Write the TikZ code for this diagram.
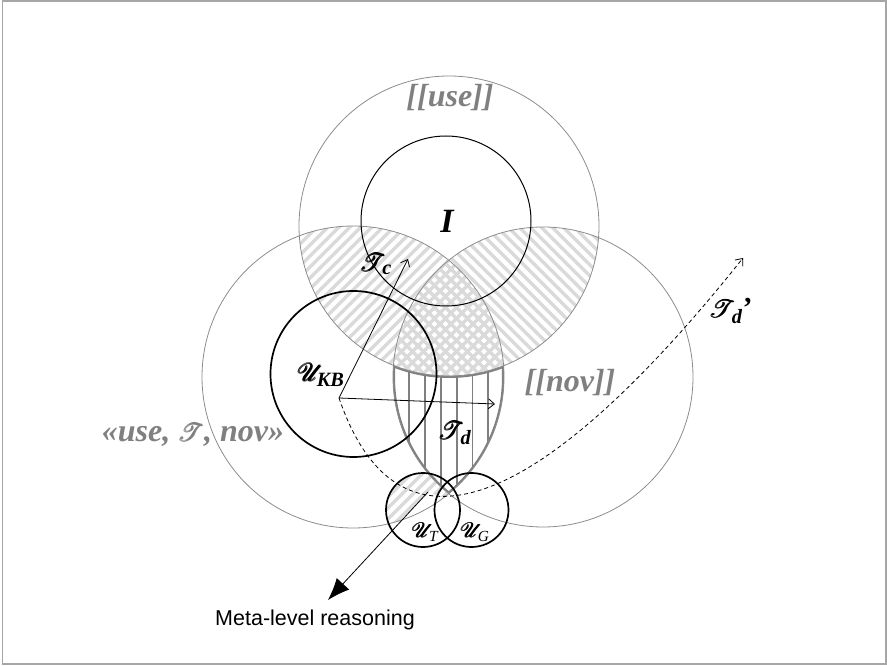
\documentclass[tikz,border=0pt]{standalone}
\usepackage{amsmath,mathrsfs}
\usepackage{fontspec}
\setmainfont{Liberation Serif}
\setsansfont{Liberation Sans}
\usetikzlibrary{positioning,arrows.meta,calc}
\definecolor{ringgray}{RGB}{140,140,140}
\definecolor{hatchgray}{RGB}{218,218,218}
\definecolor{lensgray}{RGB}{128,128,128}
\definecolor{labelgray}{RGB}{128,128,128}
\newcommand{\scr}[1]{\pmb{\mathscr{#1}}}
\newcommand{\bsub}[1]{\textbf{\textit{#1}}}

\begin{document}
\begin{tikzpicture}[x=1pt,y=1pt,>={Straight Barb[length=6pt,width=10pt]},
    ring/.style={draw=ringgray,line width=0.8pt},
    setring/.style={draw=black,line width=1.7pt},
    hatch/.style={draw=hatchgray,line width=3.5pt},
    vline/.style={draw=lensgray,line width=1.8pt},
    setlabel/.style={text=labelgray,font=\fontsize{32}{36}\selectfont\bfseries\itshape,inner sep=0pt},
    mlabel/.style={font=\fontsize{29}{33}\selectfont,inner sep=0pt},
    slabel/.style={font=\fontsize{22}{26}\selectfont,inner sep=0pt}]
  \useasboundingbox (0,0) rectangle (887,665);
  \draw[gray!70,line width=1.5pt] (2.5,1) rectangle (886,664);
  % centres
  \coordinate (cuse) at (449,439);
  \coordinate (ctn)  at (353,288);
  \coordinate (cnov) at (543,288);
  \coordinate (ci)   at (446,444);
  \coordinate (ckb)  at (353.5,291);
  \coordinate (cut)  at (423,155);
  \coordinate (cug)  at (471.5,155);
  \coordinate (o)    at (339,267);
  \coordinate (tcend) at (408,406);
  \coordinate (tdend) at (495,261);
  \coordinate (tpend) at (743,407);
  \coordinate (mstart) at (428,173);
  \coordinate (mtip)   at (328,65);
  % hatching use/nov and use/tn
  \begin{scope}
    \clip (cuse) circle[radius=150];
    \clip (ctn) circle[radius=151];
    \foreach \k in {-60,...,60} \draw[hatch] ({\k*11},0) -- ++(665,665);
  \end{scope}
  \begin{scope}
    \clip (cuse) circle[radius=150];
    \clip (cnov) circle[radius=150];
    \foreach \k in {0,...,150} \draw[hatch] ({\k*11},0) -- ++(-665,665);
  \end{scope}
  % hatching in U_T
  \begin{scope}[even odd rule]
    \clip (cut) circle[radius=37];
    \clip (ctn) circle[radius=151];
    \clip (mstart) -- (mtip) -- (300,65) -- (300,260) -- (520,260) -- (520,140) -- cycle;
    \clip (0,665) rectangle (887,0) (cnov) circle[radius=150];
    \foreach \k in {-60,...,60} \draw[hatch] ({\k*11},0) -- ++(665,665);
  \end{scope}
  % lens below [[use]]
  \begin{scope}[even odd rule]
    \clip (ctn) circle[radius=151];
    \clip (cnov) circle[radius=150];
    \clip (0,665) rectangle (887,0) (cuse) circle[radius=150];
    \foreach \x in {409.3,425.1,...,520} \draw[vline] (\x,0) -- (\x,665);
    \draw[lensgray,line width=4pt] (ctn) circle[radius=151];
    \draw[lensgray,line width=4pt] (cnov) circle[radius=150];
    \draw[lensgray,line width=4pt] (cuse) circle[radius=150];
  \end{scope}
  % rings
  \draw[ring] (cuse) circle[radius=150];
  \draw[ring] (ctn) circle[radius=151];
  \draw[ring] (cnov) circle[radius=150];
  \draw[black,line width=1pt] (ci) circle[radius=85];
  \draw[setring] (ckb) circle[radius=83];
  \draw[setring] (cut) circle[radius=37];
  \draw[setring] (cug) circle[radius=37];
  % arrows
  \draw[->,line width=0.8pt] (o) -- (tcend);
  \draw[->,line width=0.8pt] (o) -- (tdend);
  \draw[->,line width=0.8pt,dash pattern=on 4pt off 3pt] (o) .. controls (410,60) and (590,215) .. (tpend);
  \draw[-{Latex[length=22pt,width=17pt]},line width=0.8pt] (mstart) -- (mtip);
  % labels
  \node[setlabel] (use)  at (450,567) {[[use]]};
  \node[setlabel] (nov)  at (570,282) {[[nov]]};
  \node[setlabel] (tnov) at (193,230) {«use, $\scr{T}$, nov»};
  \node[font=\fontsize{34}{40}\selectfont\bfseries\itshape,inner sep=0pt] (inter) at (447,444) {I};
  \node[mlabel] (tc)  at (376,401) {$\scr{T}_{\!\bsub{c}}$};
  \node[mlabel] (ukb) at (321,290) {$\scr{U}_{\!\!\bsub{KB}}$};
  \node[mlabel] (td)  at (455,232) {$\scr{T}_{\!\bsub{d}}$};
  \node[mlabel] (tdp) at (731,354) {$\scr{T}_{\!\bsub{d}}$\textbf{’}};
  \node[slabel] (ut)  at (425,133) {$\scr{U}_{\!\!\textit{T}}$};
  \node[slabel] (ug)  at (475,133) {$\scr{U}_{\!\!\textit{G}}$};
  \node[font=\sffamily\fontsize{21.5}{25}\selectfont,inner sep=0pt] (meta) at (315,45) {Meta-level reasoning};
\end{tikzpicture}
\end{document}
